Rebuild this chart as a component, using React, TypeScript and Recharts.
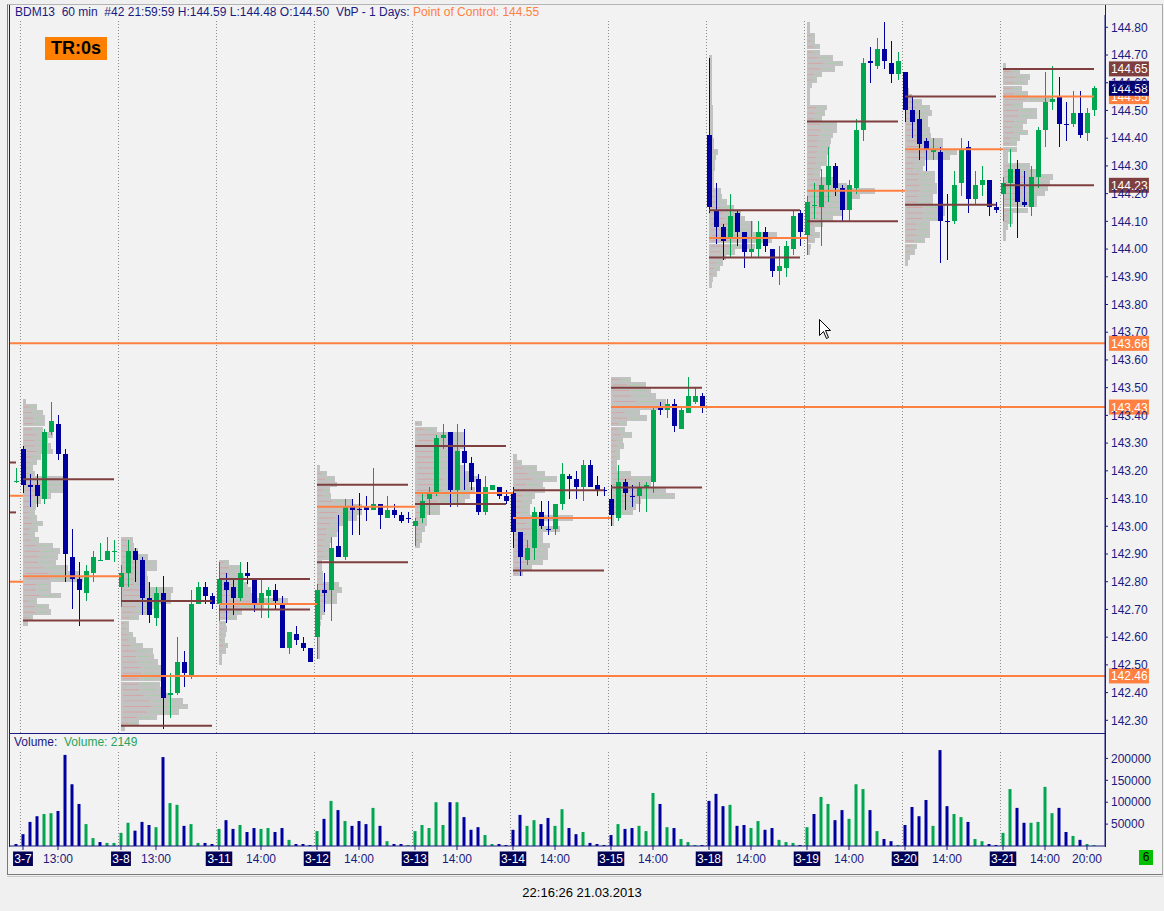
import { ComposedChart, Bar, XAxis, YAxis, ReferenceLine, ReferenceArea, ReferenceDot, Cell } from 'recharts'

type Ohlc = [number, number, number, number] // open, high, low, close

const FONT = '"Liberation Sans", Arial, sans-serif'
const NAVY = '#1a1a80'
const UP = '#00a650'
const DOWN = '#0000a0'
const POC_COLOR = '#ff8040'
const VA_COLOR = '#7f3f3f'
const PROFILE_FILL = '#c2c2c2'
const BG = '#f2f2f2'

const days = ['3-7', '3-8', '3-11', '3-12', '3-13', '3-14', '3-15', '3-18', '3-19', '3-20', '3-21']
const timeTickHours = [[13], [13], [14], [14], [14], [14], [14], [14], [14], [14], [14, 20]]
const BARS_PER_DAY = 14
const FIRST_HOUR = 8

const priceTicks = [
  142.3, 142.4, 142.5, 142.6, 142.7, 142.8, 142.9, 143.0, 143.1, 143.2, 143.3, 143.4, 143.5,
  143.6, 143.7, 143.8, 143.9, 144.0, 144.1, 144.2, 144.3, 144.4, 144.5, 144.6, 144.7, 144.8,
]
const volumeTicks = [50, 100, 150, 200] // thousands

// last hourly bar of 3-6
const prevCandle: Ohlc = [143.16, 143.21, 143.155, 143.165]
const prevVolume = 4.6

const c0307: Ohlc[] = [
  [143.28, 143.29, 143.12, 143.15], [143.15, 143.19, 143.07, 143.14], [143.15, 143.19, 143.07, 143.11],
  [143.10, 143.35, 143.08, 143.34], [143.34, 143.45, 143.33, 143.38], [143.37, 143.40, 143.24, 143.26],
  [143.26, 143.28, 142.80, 142.90], [142.89, 142.99, 142.70, 142.81], [142.81, 142.87, 142.64, 142.77],
  [142.76, 142.86, 142.73, 142.84], [142.83, 142.91, 142.80, 142.89], [142.88, 142.94, 142.88, 142.88],
  [142.88, 142.96, 142.88, 142.91], [142.91, 142.95, 142.87, 142.91],
]
const c0308: Ohlc[] = [
  [142.78, 142.86, 142.71, 142.83], [142.83, 142.95, 142.78, 142.91], [142.91, 142.92, 142.80, 142.88],
  [142.88, 142.89, 142.68, 142.74], [142.74, 142.80, 142.65, 142.68], [142.67, 142.78, 142.64, 142.76],
  [142.76, 142.82, 142.27, 142.38], [142.39, 142.47, 142.31, 142.40], [142.40, 142.60, 142.39, 142.51],
  [142.51, 142.55, 142.42, 142.47], [142.46, 142.77, 142.45, 142.72], [142.72, 142.80, 142.72, 142.78],
  [142.78, 142.80, 142.72, 142.75], [142.75, 142.76, 142.70, 142.72],
]
const c0311: Ohlc[] = [
  [142.72, 142.87, 142.66, 142.81], [142.80, 142.83, 142.65, 142.77], [142.78, 142.81, 142.68, 142.74],
  [142.74, 142.87, 142.73, 142.83], [142.83, 142.87, 142.79, 142.82], [142.81, 142.81, 142.69, 142.72],
  [142.72, 142.81, 142.67, 142.76], [142.75, 142.78, 142.67, 142.77], [142.77, 142.79, 142.70, 142.73],
  [142.72, 142.75, 142.56, 142.56], [142.56, 142.62, 142.54, 142.62], [142.61, 142.64, 142.57, 142.59],
  [142.58, 142.60, 142.55, 142.56], [142.56, 142.56, 142.51, 142.51],
]
const c0312: Ohlc[] = [
  [142.60, 142.79, 142.52, 142.77], [142.77, 142.83, 142.69, 142.76], [142.77, 142.96, 142.66, 142.92],
  [142.93, 143.04, 142.89, 142.89], [142.89, 143.10, 142.88, 143.07], [143.07, 143.10, 142.97, 143.06],
  [143.062, 143.12, 142.97, 143.06], [143.07, 143.11, 143.02, 143.06], [143.06, 143.21, 143.06, 143.08],
  [143.08, 143.08, 142.99, 143.04], [143.03, 143.11, 143.03, 143.06], [143.06, 143.08, 143.03, 143.04],
  [143.04, 143.05, 143.01, 143.02], [143.03, 143.05, 143.01, 143.028],
]
const c0313: Ohlc[] = [
  [143.00, 143.03, 142.93, 143.02], [143.03, 143.12, 143.01, 143.09], [143.10, 143.14, 143.04, 143.12],
  [143.12, 143.33, 143.11, 143.32], [143.32, 143.37, 143.28, 143.33], [143.34, 143.34, 143.07, 143.13],
  [143.13, 143.37, 143.07, 143.27], [143.27, 143.35, 143.13, 143.23], [143.23, 143.25, 143.13, 143.16],
  [143.17, 143.19, 143.04, 143.05], [143.05, 143.18, 143.04, 143.14], [143.13, 143.15, 143.13, 143.15],
  [143.14, 143.14, 143.10, 143.11], [143.11, 143.13, 143.08, 143.09],
]
const c0314: Ohlc[] = [
  [143.12, 143.14, 142.92, 142.98], [142.98, 142.98, 142.82, 142.89], [142.88, 142.95, 142.86, 142.92],
  [142.92, 143.07, 142.88, 143.05], [143.05, 143.09, 142.99, 143.00], [142.99, 143.09, 142.97, 142.988],
  [142.99, 143.08, 142.97, 143.08], [143.08, 143.23, 143.06, 143.19], [143.18, 143.19, 143.10, 143.17],
  [143.17, 143.20, 143.10, 143.14], [143.14, 143.24, 143.09, 143.22], [143.22, 143.24, 143.14, 143.14],
  [143.15, 143.18, 143.11, 143.13], [143.13, 143.14, 143.11, 143.128],
]
const c0315: Ohlc[] = [
  [143.10, 143.15, 143.00, 143.04], [143.03, 143.22, 143.02, 143.16], [143.16, 143.17, 143.06, 143.12],
  [143.11, 143.15, 143.07, 143.108], [143.11, 143.16, 143.05, 143.14], [143.14, 143.16, 143.05, 143.15],
  [143.16, 143.43, 143.12, 143.42], [143.43, 143.45, 143.40, 143.42], [143.42, 143.46, 143.39, 143.44],
  [143.44, 143.46, 143.34, 143.36], [143.35, 143.43, 143.35, 143.42], [143.41, 143.54, 143.41, 143.47],
  [143.45, 143.50, 143.44, 143.47], [143.47, 143.48, 143.41, 143.43],
]
const c0318: Ohlc[] = [
  [144.41, 144.69, 144.13, 144.15], [144.14, 144.24, 144.02, 144.08], [144.08, 144.09, 143.96, 144.03],
  [144.04, 144.20, 143.97, 144.12], [144.13, 144.14, 144.01, 144.06], [144.06, 144.06, 143.93, 143.99],
  [143.99, 144.10, 143.97, 144.00], [144.00, 144.10, 143.97, 144.06], [144.06, 144.08, 143.99, 144.01],
  [144.00, 144.00, 143.90, 143.92], [143.92, 144.01, 143.87, 143.94], [143.93, 144.03, 143.90, 144.01],
  [144.00, 144.14, 143.98, 144.12], [144.13, 144.14, 144.01, 144.06],
]
const c0319: Ohlc[] = [
  [144.05, 144.19, 143.98, 144.17], [144.16, 144.24, 144.11, 144.16], [144.15, 144.29, 144.01, 144.23],
  [144.23, 144.37, 144.17, 144.30], [144.30, 144.31, 144.19, 144.22], [144.22, 144.23, 144.10, 144.14],
  [144.14, 144.25, 144.10, 144.23], [144.22, 144.47, 144.20, 144.43], [144.43, 144.69, 144.39, 144.67],
  [144.68, 144.73, 144.60, 144.67], [144.66, 144.76, 144.65, 144.72], [144.72, 144.82, 144.65, 144.68],
  [144.67, 144.75, 144.60, 144.63], [144.63, 144.71, 144.61, 144.68],
]
const c0320: Ohlc[] = [
  [144.64, 144.64, 144.46, 144.50], [144.50, 144.55, 144.40, 144.46], [144.47, 144.50, 144.32, 144.38],
  [144.39, 144.40, 144.28, 144.36], [144.35, 144.40, 144.32, 144.36], [144.35, 144.37, 143.95, 144.10],
  [144.10, 144.20, 143.96, 144.098], [144.10, 144.28, 144.09, 144.23], [144.24, 144.40, 144.19, 144.36],
  [144.37, 144.39, 144.13, 144.18], [144.18, 144.28, 144.16, 144.23], [144.23, 144.30, 144.19, 144.25],
  [144.25, 144.25, 144.12, 144.15], [144.15, 144.17, 144.13, 144.14],
]
const c0321: Ohlc[] = [
  [144.20, 144.26, 144.10, 144.24], [144.24, 144.36, 144.08, 144.29], [144.29, 144.32, 144.04, 144.17],
  [144.17, 144.28, 144.15, 144.16], [144.15, 144.30, 144.12, 144.26], [144.26, 144.44, 144.22, 144.43],
  [144.43, 144.64, 144.37, 144.53], [144.53, 144.66, 144.50, 144.54], [144.55, 144.62, 144.37, 144.45],
  [144.45, 144.53, 144.39, 144.448], [144.45, 144.57, 144.44, 144.49], [144.49, 144.57, 144.40, 144.41],
  [144.42, 144.51, 144.39, 144.49], [144.50, 144.59, 144.48, 144.58],
]

// hourly volume, thousands of contracts
const v0307 = [27, 55, 68, 73, 75, 80, 208, 141, 96, 50, 18, 9, 7, 7]
const v0308 = [30, 53, 35, 55, 48, 43, 203, 98, 94, 46, 50, 7, 7, 4.6]
const v0311 = [39, 59, 39, 48, 32, 41, 39, 41, 32, 41, 14, 4.6, 4.6, 2.3]
const v0312 = [34, 62, 103, 82, 57, 46, 57, 50, 87, 46, 11, 4.6, 4.6, 2.3]
const v0313 = [34, 48, 41, 100, 48, 100, 100, 66, 37, 43, 25, 4.6, 4.6, 2.3]
const v0314 = [37, 71, 46, 59, 50, 64, 46, 84, 41, 27, 32, 7, 4.6, 2.3]
const v0315 = [25, 50, 39, 41, 46, 34, 121, 96, 43, 41, 16, 9, 2.3, 2.3]
const v0318 = [103, 119, 91, 94, 46, 48, 41, 57, 37, 41, 14, 9, 7, 2.3]
const v0319 = [43, 73, 112, 96, 59, 82, 62, 141, 130, 82, 34, 16, 11, 2.3]
const v0320 = [48, 89, 68, 105, 46, 219, 91, 73, 66, 55, 16, 11, 4.6, 2.3]
const v0321 = [30, 130, 87, 53, 53, 55, 135, 75, 87, 32, 23, 14, 4.6, 2.149]

// volume bar colour (g = close above previous close)
const volDir = [
  'bbbggbbbbggbgg', 'ggbbbgbggbggbb', 'gbbgbbggbbgbbb', 'gbgbgbbbgbgbbg', 'gggggbgbbbggbb', 'bbggbbggbbgbbb',
  'bgbbgggbgbgggb', 'bbbgbbggbbgggb', 'gbggbbgggbgbbg', 'bbbbgbbggbggbb', 'ggbbggggbbgbgg',
]

// volume at price per session, top price then one value every 0.02
const profileTop = [143.45, 142.95, 142.87, 143.21, 143.37, 143.25, 143.53, 144.69, 144.81, 144.63, 144.66]
const vp0307 = [3, 14, 20, 22, 22, 20, 30, 25, 28, 30, 18, 14, 10, 12, 43, 45, 40, 28, 18, 13, 12, 14, 20, 15, 12, 16, 30, 37, 35, 33, 45, 57, 60, 28, 28, 38, 14, 26, 28, 10, 5]
const vp0308 = [12, 13, 17, 27, 36, 36, 26, 27, 28, 52, 50, 50, 34, 28, 18, 8, 8, 12, 15, 22, 32, 33, 37, 44, 44, 40, 39, 40, 50, 62, 67, 58, 36, 18, 4]
const vp0311 = [10, 22, 22, 25, 29, 32, 33, 69, 45, 23, 18, 7, 8, 7, 6, 9, 7, 3, 3]
const vp0312 = [3, 10, 18, 20, 13, 14, 35, 45, 45, 40, 28, 21, 20, 15, 13, 13, 12, 5, 5, 6, 6, 22, 25, 20, 20, 8, 8, 5, 4, 3, 3, 3, 3, 3, 3]
const vp0313 = [7, 22, 50, 50, 50, 45, 40, 45, 50, 55, 63, 55, 60, 55, 50, 25, 25, 12, 12, 10, 7, 7, 5]
const vp0314 = [4, 9, 24, 32, 44, 30, 32, 22, 19, 17, 17, 60, 30, 47, 30, 30, 37, 35, 35, 30, 19, 10]
const vp0315 = [20, 35, 40, 45, 55, 57, 29, 36, 16, 14, 21, 12, 13, 9, 9, 6, 6, 20, 45, 40, 55, 64, 30, 25, 22, 3, 3]
const vp0318 = [3, 3, 3, 3, 3, 3, 3, 3, 3, 4, 4, 4, 4, 4, 4, 5, 5, 9, 7, 6, 6, 5, 5, 5, 12, 13, 18, 25, 32, 36, 44, 44, 68, 63, 46, 26, 17, 14, 11, 8, 4, 3]
const vp0319 = [3, 3, 8, 8, 13, 13, 26, 36, 28, 15, 10, 5, 3, 3, 3, 20, 18, 15, 30, 30, 26, 24, 23, 22, 20, 20, 14, 13, 26, 40, 68, 53, 45, 41, 35, 26, 16, 8, 13, 8, 4, 3]
const vp0320 = [3, 3, 3, 4, 7, 17, 25, 27, 23, 23, 25, 26, 38, 38, 52, 45, 20, 18, 30, 30, 32, 32, 28, 28, 40, 40, 38, 25, 25, 25, 20, 12, 10, 5, 3]
const vp0321 = [3, 17, 27, 25, 19, 25, 50, 20, 34, 34, 24, 20, 25, 17, 14, 14, 5, 5, 27, 35, 50, 47, 45, 42, 34, 34, 25, 10, 10, 5, 3, 3]

// value area high, point of control, value area low
const vah = [143.17, 142.73, 142.81, 143.15, 143.29, 143.13, 143.50, 144.14, 144.46, 144.55, 144.65]
const poc = [142.82, 142.46, 142.72, 143.07, 143.12, 143.03, 143.43, 144.04, 144.21, 144.36, 144.55]
const val = [142.66, 142.28, 142.70, 142.87, 143.08, 142.84, 143.14, 143.97, 144.10, 144.16, 144.23]
const nakedPocDays = [1, 6]

// levels carried in from the sessions before 3-7
const priorVa = [143.23, 143.05]
const priorPoc = [143.11, 142.80]
const olderNakedPoc = 143.66

const dayCandles = [c0307, c0308, c0311, c0312, c0313, c0314, c0315, c0318, c0319, c0320, c0321]
const dayVolumes = [v0307, v0308, v0311, v0312, v0313, v0314, v0315, v0318, v0319, v0320, v0321]
const dayProfiles = [vp0307, vp0308, vp0311, vp0312, vp0313, vp0314, vp0315, vp0318, vp0319, vp0320, vp0321]

const X_MIN = -0.857
const X_MAX = 155.571
const PRICE_MIN = 142.2542
const PRICE_MAX = 144.8444
const VOL_MAX = 255.7
const PROFILE_UNIT = 1 / 7
const SEP_TOP = 144.823
const VOL_SEP_TOP = 217

const firstIdx = (d: number) => 1 + d * BARS_PER_DAY
const lastIdx = (d: number) => firstIdx(d) + BARS_PER_DAY - 1
const sepX = (d: number) => firstIdx(d) - 0.36

type Row = { i: number; o: number; h: number; l: number; c: number; range: [number, number]; vol: number; volUp: boolean }

const rows: Row[] = [{
  i: 0, o: prevCandle[0], h: prevCandle[1], l: prevCandle[2], c: prevCandle[3],
  range: [prevCandle[2], prevCandle[1]], vol: prevVolume, volUp: false,
}]
dayCandles.forEach((day, d) => {
  day.forEach(([o, h, l, c], k) => {
    rows.push({ i: firstIdx(d) + k, o, h, l, c, range: [l, h], vol: dayVolumes[d][k], volUp: volDir[d][k] === 'g' })
  })
})

const axisTicks: number[] = []
const tickText = new Map<number, { text: string; date: boolean }>()
days.forEach((label, d) => {
  axisTicks.push(firstIdx(d))
  tickText.set(firstIdx(d), { text: label, date: true })
  timeTickHours[d].forEach(hr => {
    const idx = firstIdx(d) + hr - FIRST_HOUR
    axisTicks.push(idx)
    tickText.set(idx, { text: `${hr}:00`, date: false })
  })
})

const tags = [
  { price: 144.65, bg: VA_COLOR },
  { price: 144.23, bg: VA_COLOR },
  { price: 143.66, bg: POC_COLOR },
  { price: 143.43, bg: POC_COLOR },
  { price: 142.46, bg: POC_COLOR },
  { price: 144.55, bg: POC_COLOR },
  { price: 144.58, bg: '#00006e' },
]

// eslint-disable-next-line @typescript-eslint/no-explicit-any
function Candle(props: any) {
  const { x, y, width, height, payload } = props
  const { o, h, l, c } = payload as Row
  const color = c >= o ? UP : DOWN
  const span = h - l
  const py = (v: number) => (span > 0 ? y + ((h - v) / span) * height : y)
  const cx = Math.round(x + width / 2) + 0.5
  const top = py(Math.max(o, c))
  const bot = py(Math.min(o, c))
  return (
    <g shapeRendering="crispEdges">
      <line x1={cx} x2={cx} y1={y} y2={y + Math.max(height, 1)} stroke={color} />
      <rect x={cx - 2.5} y={top} width={5} height={Math.max(bot - top, 1)} fill={color} />
    </g>
  )
}

// eslint-disable-next-line @typescript-eslint/no-explicit-any
function TimeTick({ x, y, payload }: any) {
  const t = tickText.get(payload.value)
  if (!t) return null
  if (t.date) {
    const w = t.text.replace('-', '').length * 6.67 + 6.5
    return (
      <g>
        <rect x={x - w / 2} y={y + 1.5} width={w} height={14.5} fill="#000055" />
        <text x={x} y={y + 13} textAnchor="middle" fill="#fff" fontSize={12} fontFamily={FONT}>{t.text}</text>
      </g>
    )
  }
  return <text x={x} y={y + 13} textAnchor="middle" fill={NAVY} fontSize={12} fontFamily={FONT}>{t.text}</text>
}

function profileAreas() {
  const out: JSX.Element[] = []
  dayProfiles.forEach((vals, d) => {
    const x1 = firstIdx(d)
    vals.forEach((v, j) => {
      const p = +(profileTop[d] - j * 0.02).toFixed(2)
      const w = v * PROFILE_UNIT
      out.push(
        <ReferenceArea key={`pa${d}-${j}`} x1={x1} x2={x1 + w} y1={p - 0.0099} y2={p + 0.0099}
          fill={PROFILE_FILL} fillOpacity={1} stroke="none" shapeRendering="crispEdges" />,
      )
      if (v >= 6) {
        out.push(
          <ReferenceArea key={`pr${d}-${j}`} x1={x1 + w * 0.04} x2={x1 + w * 0.45} y1={p - 0.0016} y2={p + 0.0016}
            fill="#d6a2a2" fillOpacity={1} stroke="none" />,
          <ReferenceArea key={`pg${d}-${j}`} x1={x1 + w * 0.5} x2={x1 + w * 0.88} y1={p - 0.0016} y2={p + 0.0016}
            fill="#a6cfa6" fillOpacity={1} stroke="none" />,
        )
      }
    })
  })
  return out
}

function levelLines() {
  const out: JSX.Element[] = []
  const seg = (key: string, x1: number, x2: number, y: number, color: string) => (
    <ReferenceLine key={key} segment={[{ x: x1, y }, { x: x2, y }]} stroke={color} strokeWidth={2} />
  )
  out.push(seg('old', X_MIN, X_MAX, olderNakedPoc, POC_COLOR))
  priorVa.forEach((p, k) => out.push(seg(`pva${k}`, X_MIN, 0, p, VA_COLOR)))
  priorPoc.forEach((p, k) => out.push(seg(`ppoc${k}`, X_MIN, firstIdx(0), p, POC_COLOR)))
  days.forEach((_, d) => {
    out.push(seg(`vah${d}`, firstIdx(d), lastIdx(d), vah[d], VA_COLOR))
    out.push(seg(`val${d}`, firstIdx(d), lastIdx(d), val[d], VA_COLOR))
    const end = nakedPocDays.includes(d) ? X_MAX : d === days.length - 1 ? lastIdx(d) : firstIdx(d + 1)
    out.push(seg(`poc${d}`, firstIdx(d), end, poc[d], POC_COLOR))
  })
  return out
}

function separators(bottom: number, top: number, prefix: string) {
  return days.map((_, d) => (
    <ReferenceLine key={`${prefix}${d}`} segment={[{ x: sepX(d), y: bottom }, { x: sepX(d), y: top }]}
      stroke="#8a8a8a" strokeDasharray="1 2" />
  ))
}

export default function App() {
  return (
    <div style={{ position: 'absolute', left: 0, top: 0, width: 1164, height: 911, background: '#f0f0f0', fontFamily: FONT, overflow: 'hidden' }}>
      <div style={{ position: 'absolute', left: 7, top: 4, width: 1154, height: 869, background: BG, borderTop: '1px solid #b4b4b4', borderLeft: '1px solid #7a7a7a', borderRight: '1px solid #a8a8a8', borderBottom: '1px solid #7a7a7a' }} />
      <div style={{ position: 'absolute', left: 7, top: 876, width: 1156, height: 1, background: '#c8c8c8' }} />

      <div style={{ position: 'absolute', left: 0, top: 0 }}>
        <ComposedChart width={1164} height={740} data={rows} margin={{ top: 15, right: 0, bottom: 7, left: 10 }}>
          <XAxis dataKey="i" type="number" domain={[X_MIN, X_MAX]} allowDataOverflow hide />
          <YAxis
            orientation="right" width={59} domain={[PRICE_MIN, PRICE_MAX]} allowDataOverflow ticks={priceTicks}
            tickFormatter={v => v.toFixed(2)} tick={{ fill: NAVY, fontSize: 12, fontFamily: FONT }}
            axisLine={{ stroke: NAVY }} tickLine={{ stroke: NAVY }} tickSize={3} tickMargin={3} interval={0}
          />
          {separators(PRICE_MIN, SEP_TOP, 'sep')}
          {profileAreas()}
          {levelLines()}
          <Bar dataKey="range" barSize={5} shape={<Candle />} isAnimationActive={false} />
          {tags.map(t => (
            <ReferenceDot key={`tag${t.price}`} x={X_MAX - 0.01} y={t.price} r={0}
              shape={(p: { cx: number; cy: number }) => (
                <g>
                  <rect x={p.cx + 4} y={p.cy - 7.5} width={40} height={15} fill={t.bg} />
                  <text x={p.cx + 6} y={p.cy + 4.5} fill="#fff" fontSize={12} fontFamily={FONT}>{t.price.toFixed(2)}</text>
                </g>
              )}
            />
          ))}
        </ComposedChart>
      </div>

      <div style={{ position: 'absolute', left: 0, top: 733 }}>
        <ComposedChart width={1164} height={140} data={rows} margin={{ top: 1, right: 0, bottom: 0, left: 10 }}>
          <XAxis
            dataKey="i" type="number" domain={[X_MIN, X_MAX]} allowDataOverflow ticks={axisTicks} interval={0}
            height={27} tick={<TimeTick />} axisLine={{ stroke: NAVY }} tickLine={{ stroke: NAVY }} tickSize={4} tickMargin={0}
          />
          <YAxis
            orientation="right" width={59} domain={[0, VOL_MAX]} allowDataOverflow ticks={volumeTicks}
            tickFormatter={v => String(v * 1000)} tick={{ fill: NAVY, fontSize: 12, fontFamily: FONT }}
            axisLine={{ stroke: NAVY }} tickLine={{ stroke: NAVY }} tickSize={3} tickMargin={3} interval={0}
          />
          {separators(0, VOL_SEP_TOP, 'vsep')}
          <Bar dataKey="vol" barSize={3} isAnimationActive={false}>
            {rows.map(r => <Cell key={r.i} fill={r.volUp ? UP : DOWN} />)}
          </Bar>
        </ComposedChart>
      </div>

      {/* panel frame */}
      <div style={{ position: 'absolute', left: 9, top: 5, width: 1, height: 842, background: NAVY }} />
      <div style={{ position: 'absolute', left: 1105, top: 5, width: 1, height: 842, background: NAVY }} />
      <div style={{ position: 'absolute', left: 9, top: 733, width: 1097, height: 1, background: NAVY }} />

      <div style={{ position: 'absolute', left: 15, top: 5, fontSize: 12, lineHeight: '15px', whiteSpace: 'pre', color: NAVY }}>
        {'BDM13  60 min  #42 21:59:59 H:144.59 L:144.48 O:144.50  VbP - 1 Days: '}
        <span style={{ color: POC_COLOR }}>Point of Control: 144.55</span>
      </div>
      <div style={{ position: 'absolute', left: 45, top: 37, width: 62, height: 23, background: '#ff8000', color: '#000', fontWeight: 'bold', fontSize: 18, lineHeight: '23px', textAlign: 'center' }}>
        TR:0s
      </div>
      <div style={{ position: 'absolute', left: 14, top: 735, fontSize: 12, lineHeight: '15px', whiteSpace: 'pre', color: NAVY }}>
        {'Volume:  '}<span style={{ color: '#2aa35a' }}>Volume: 2149</span>
      </div>
      <div style={{ position: 'absolute', left: 1139, top: 850, width: 14, height: 15, background: '#00c000', color: '#000', fontSize: 12, lineHeight: '15px', textAlign: 'center' }}>6</div>
      <div style={{ position: 'absolute', left: 0, top: 885, width: 1164, textAlign: 'center', fontSize: 13, color: '#000' }}>22:16:26 21.03.2013</div>

      <svg style={{ position: 'absolute', left: 819, top: 319 }} width={14} height={22}>
        <path d="M0.5 0.5 L0.5 16.5 L4.5 12.5 L7.5 19.5 L9.5 18.5 L6.5 11.5 L11.5 11.5 Z" fill="#fff" stroke="#000" strokeWidth={1} />
      </svg>
    </div>
  )
}
